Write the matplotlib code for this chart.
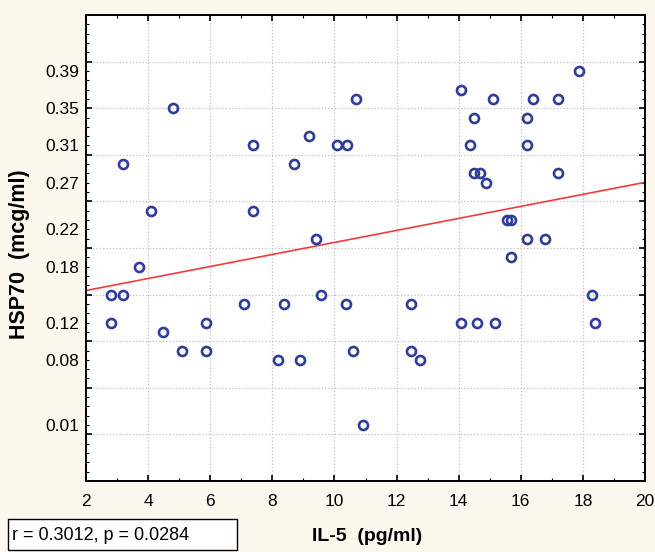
import matplotlib
matplotlib.use("Agg")
import matplotlib.pyplot as plt
import numpy as np
from matplotlib.patches import Rectangle

plt.rcParams['font.family'] = ['Liberation Sans', 'DejaVu Sans']

# IL-5 (pg/ml) vs HSP70 (mcg/ml)
il5 = [3.18, 4.08, 4.80, 7.38, 7.38, 8.69, 9.19, 10.07, 10.39, 10.69, 9.41,
       14.08, 15.11, 16.38, 17.19, 17.86, 14.49, 16.19, 14.37, 16.19, 14.49,
       14.70, 14.88, 17.19, 15.56, 15.69, 16.19, 16.77, 3.70, 2.79, 3.18,
       2.79, 4.49, 5.10, 5.88, 5.88, 7.08, 8.18, 8.38, 8.88, 9.58, 10.38,
       10.60, 10.91, 15.69, 12.47, 12.47, 12.77, 14.08, 14.58, 15.16, 18.28,
       18.39]
hsp70 = [0.29, 0.24, 0.35, 0.31, 0.24, 0.29, 0.32, 0.31, 0.31, 0.36, 0.21,
         0.37, 0.36, 0.36, 0.36, 0.39, 0.34, 0.34, 0.31, 0.31, 0.28,
         0.28, 0.27, 0.28, 0.23, 0.23, 0.21, 0.21, 0.18, 0.15, 0.15,
         0.12, 0.11, 0.09, 0.12, 0.09, 0.14, 0.08, 0.14, 0.08, 0.15, 0.14,
         0.09, 0.01, 0.19, 0.14, 0.09, 0.08, 0.12, 0.12, 0.12, 0.15,
         0.12]

# y tick labels as printed on the original chart
ylabel_vals = [0.01, 0.08, 0.12, 0.18, 0.22, 0.27, 0.31, 0.35, 0.39]
xtick_vals = np.arange(2, 21, 2)
stats_text = "r = 0.3012, p = 0.0284"

bg = '#fcf8ee'
blue = '#2e3d9a'
red = '#f03c3c'

fig = plt.figure(figsize=(6.55, 5.52), dpi=100, facecolor=bg)
ax = fig.add_axes([86 / 655, 71 / 552, 559 / 655, 466 / 552])
ax.set_facecolor('white')

ax.plot(il5, hsp70, 'o', mfc='none', mec=blue, ms=6.5, mew=1.9, zorder=3)

# linear fit
slope, icpt = np.polyfit(il5, hsp70, 1)
xl = np.array([2, 20])
ax.plot(xl, icpt + slope * xl, color=red, lw=1.2, zorder=2)

ax.set_xlim(2, 20)
ax.set_ylim(-0.05, 0.45)
ax.set_xticks(xtick_vals)
ax.set_xticks(np.arange(3, 20, 2), minor=True)
ax.set_yticks(np.arange(0, 0.41, 0.05))
ax.set_yticks(np.arange(-0.04, 0.45, 0.01), minor=True)
ax.tick_params(which='both', direction='in', top=True, right=True, labelleft=False)
ax.tick_params(which='major', length=4, width=1.2)
ax.tick_params(which='minor', length=2.5, width=0.8)
ax.tick_params(axis='x', labelsize=12.5, pad=9)
ax.set_axisbelow(True)
ax.grid(True, which='major', ls=':', color='#c0c0c0', lw=0.9)
for s in ax.spines.values():
    s.set_linewidth(1.4)

# printed y labels sit off the grid, so put them on a second axis
sec = ax.secondary_yaxis('left')
sec.set_yticks(ylabel_vals, labels=[f"{v:.2f}" for v in ylabel_vals])
sec.tick_params(length=0, labelsize=12.5, pad=5)
sec.spines['left'].set_visible(False)

fig.text(20 / 655, 1 - 254 / 552, 'HSP70  (mcg/ml)', rotation=90, fontweight='bold',
         fontsize=15.5, ha='center', va='center')
fig.text(367 / 655, 1 - 541 / 552, 'IL-5  (pg/ml)', fontweight='bold',
         fontsize=14, ha='center', va='baseline')

fig.add_artist(Rectangle((8 / 655, 2 / 552), 229 / 655, 31 / 552, transform=fig.transFigure,
                         fc='white', ec='black', lw=1))
fig.text(12 / 655, 1 - 535 / 552, stats_text, fontsize=13, ha='left', va='center')

fig.savefig('out.png', dpi=100, facecolor=bg)
